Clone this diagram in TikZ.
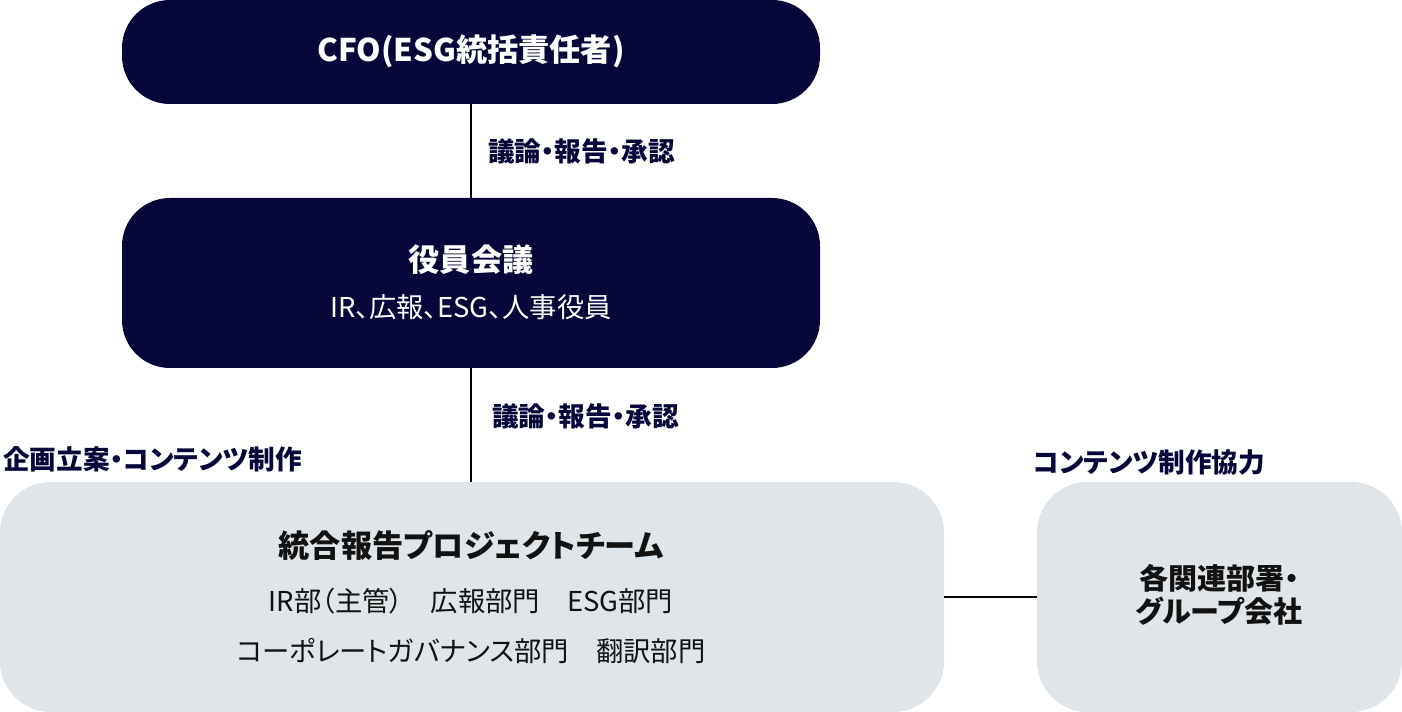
\documentclass[tikz,border=0pt]{standalone}
\usepackage{fontspec}
\setmainfont{Noto Sans CJK JP}[RawFeature=+palt]
\usetikzlibrary{positioning}
\definecolor{navy}{HTML}{06063A}
\definecolor{pale}{HTML}{DFE5E8}
\definecolor{ink}{HTML}{111111}
\tikzset{
  darkbox/.style={fill=navy, draw=none, rounded corners=36pt},
  palebox/.style={fill=pale, draw=none, rounded corners=38pt},
  conn/.style={draw=black, line width=1.5pt},
  lbl/.style={text=navy, font=\bfseries\fontsize{20}{24}\selectfont, inner sep=0pt},
  boxtitle/.style={font=\bfseries\fontsize{23.4}{28}\selectfont, inner sep=0pt},
  grptitle/.style={font=\bfseries\fontsize{21.8}{25}\selectfont, inner sep=0pt},
  boxsub/.style={font=\fontsize{20.5}{24}\selectfont, inner sep=0pt},
}
\begin{document}
\begin{tikzpicture}[x=0.75pt,y=-0.75pt]
\useasboundingbox (0,0) rectangle (1402,712);
% boxes
\path[darkbox] (122,0) rectangle (820,104);
\path[darkbox] (122,198) rectangle (820,368);
\path[palebox] (0,482) rectangle (944,712);
\path[palebox] (1037,482) rectangle (1402,712);
\coordinate (cfoB) at (471,104);
\coordinate (boardT) at (471,198);
\coordinate (boardB) at (471,368);
\coordinate (teamT) at (471,482);
\coordinate (teamR) at (944,597);
\coordinate (grpL) at (1037,597);
% texts
\node[boxtitle, text=white] (cfo) at (471,51) {CFO(ESG統括責任者)};
\node[boxtitle, text=white] (board) at (471,260) {役員会議};
\node[boxsub, text=white] (boardsub) at (471,307) {IR、広報、ESG、人事役員};
\node[boxtitle, text=ink] (team) at (471,546) {統合報告プロジェクトチーム};
\node[boxsub, text=ink] (team1) at (471,601) {IR部（主管）　広報部門　ESG部門};
\node[boxsub, text=ink] (team2) at (471,651) {コーポレートガバナンス部門　翻訳部門};
\node[grptitle, text=ink, align=center] (grp) at (1219,595) {各関連部署・\\[0pt]グループ会社};
% connectors
\draw[conn] (cfoB) -- (boardT);
\draw[conn] (boardB) -- (teamT);
\draw[conn] (teamR) -- (grpL);
% labels
\node[lbl, anchor=west] (l1) at (488,151) {議論・報告・承認};
\node[lbl, anchor=west] (l2) at (492,416) {議論・報告・承認};
\node[lbl, anchor=west] (l3) at (3,459) {企画立案・コンテンツ制作};
\node[lbl, anchor=west] (l4) at (1033,462) {コンテンツ制作協力};
\end{tikzpicture}
\end{document}
